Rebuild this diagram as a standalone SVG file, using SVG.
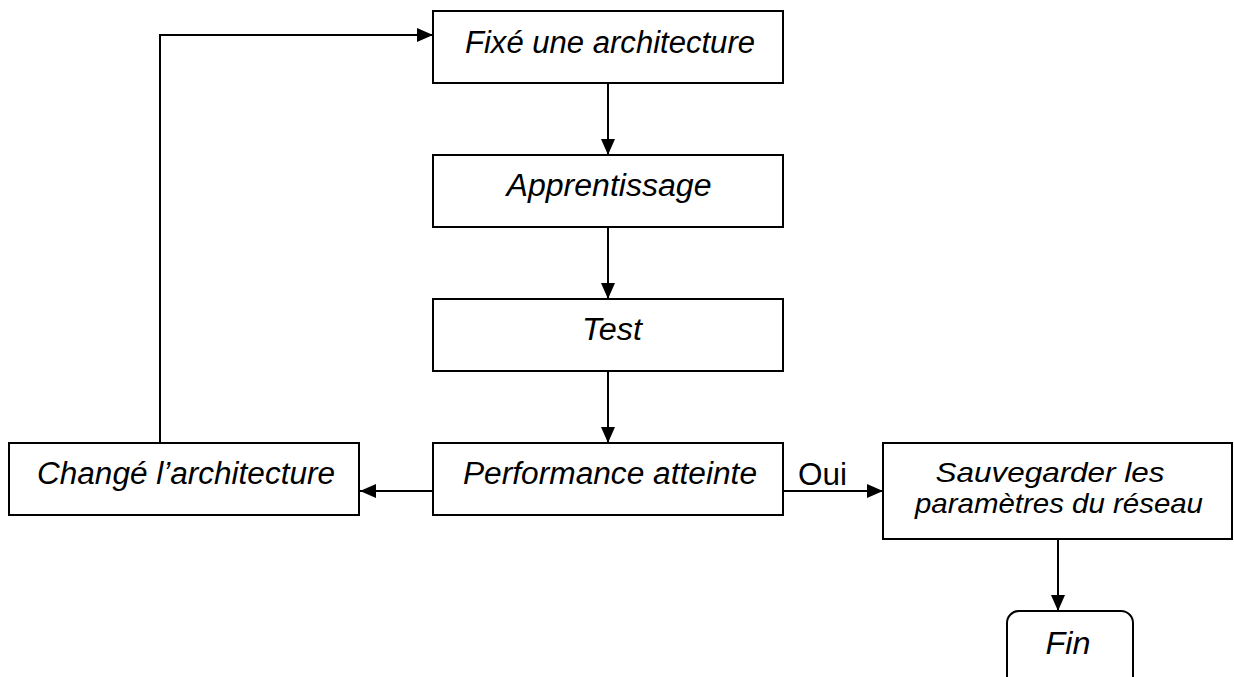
<svg xmlns="http://www.w3.org/2000/svg" width="1234" height="677" viewBox="0 0 1234 677">
  <style>
    .box { fill: #ffffff; stroke: #000000; stroke-width: 2; }
    .lbl { font-family: "Liberation Sans", Arial, sans-serif; font-size: 31px; font-style: italic; fill: #000000; text-anchor: middle; }
    .small { font-size: 28px; }
    .plain { font-family: "Liberation Sans", Arial, sans-serif; font-size: 31px; fill: #000000; }
    .edge { fill: none; stroke: #000000; stroke-width: 2; marker-end: url(#arrow); }
  </style>
  <defs>
    <marker id="arrow" markerUnits="userSpaceOnUse" markerWidth="16" markerHeight="14" refX="16" refY="7" orient="auto">
      <path d="M0,0 L16,7 L0,14 Z" fill="#000000"/>
    </marker>
  </defs>
  <rect width="1234" height="677" fill="#ffffff"/>

  <!-- connectors -->
  <g id="connectors">
    <path class="edge" d="M608,83 V155"/>
    <path class="edge" d="M608,227 V299"/>
    <path class="edge" d="M608,371 V443"/>
    <path class="edge" d="M433,491 H360"/>
    <path class="edge" d="M783,491 H883"/>
    <path class="edge" d="M160,443 V35 H433"/>
    <path class="edge" d="M1058,539 V611"/>
    <text class="plain" x="798" y="485" textLength="49" lengthAdjust="spacingAndGlyphs">Oui</text>
  </g>

  <g id="fixe">
    <rect class="box" x="433" y="11" width="350" height="72"/>
    <text class="lbl" x="610" y="53" textLength="290" lengthAdjust="spacingAndGlyphs">Fixé une architecture</text>
  </g>
  <g id="apprentissage">
    <rect class="box" x="433" y="155" width="350" height="72"/>
    <text class="lbl" x="609" y="196" textLength="205" lengthAdjust="spacingAndGlyphs">Apprentissage</text>
  </g>
  <g id="test">
    <rect class="box" x="433" y="299" width="350" height="72"/>
    <text class="lbl" x="612" y="340" textLength="60" lengthAdjust="spacingAndGlyphs">Test</text>
  </g>
  <g id="performance">
    <rect class="box" x="433" y="443" width="350" height="72"/>
    <text class="lbl" x="610" y="484" textLength="294" lengthAdjust="spacingAndGlyphs">Performance atteinte</text>
  </g>
  <g id="change">
    <rect class="box" x="9" y="443" width="350" height="72"/>
    <text class="lbl" x="186" y="484" textLength="298" lengthAdjust="spacingAndGlyphs">Changé l’architecture</text>
  </g>
  <g id="sauvegarder">
    <rect class="box" x="883" y="443" width="349" height="96"/>
    <text class="lbl small" x="1050" y="482" textLength="229" lengthAdjust="spacingAndGlyphs">Sauvegarder les</text>
    <text class="lbl small" x="1059" y="513" textLength="288" lengthAdjust="spacingAndGlyphs">paramètres du réseau</text>
  </g>
  <g id="fin">
    <rect class="box" x="1007" y="611" width="126" height="90" rx="12" ry="12"/>
    <text class="lbl" x="1068" y="654" textLength="45" lengthAdjust="spacingAndGlyphs">Fin</text>
  </g>
</svg>
